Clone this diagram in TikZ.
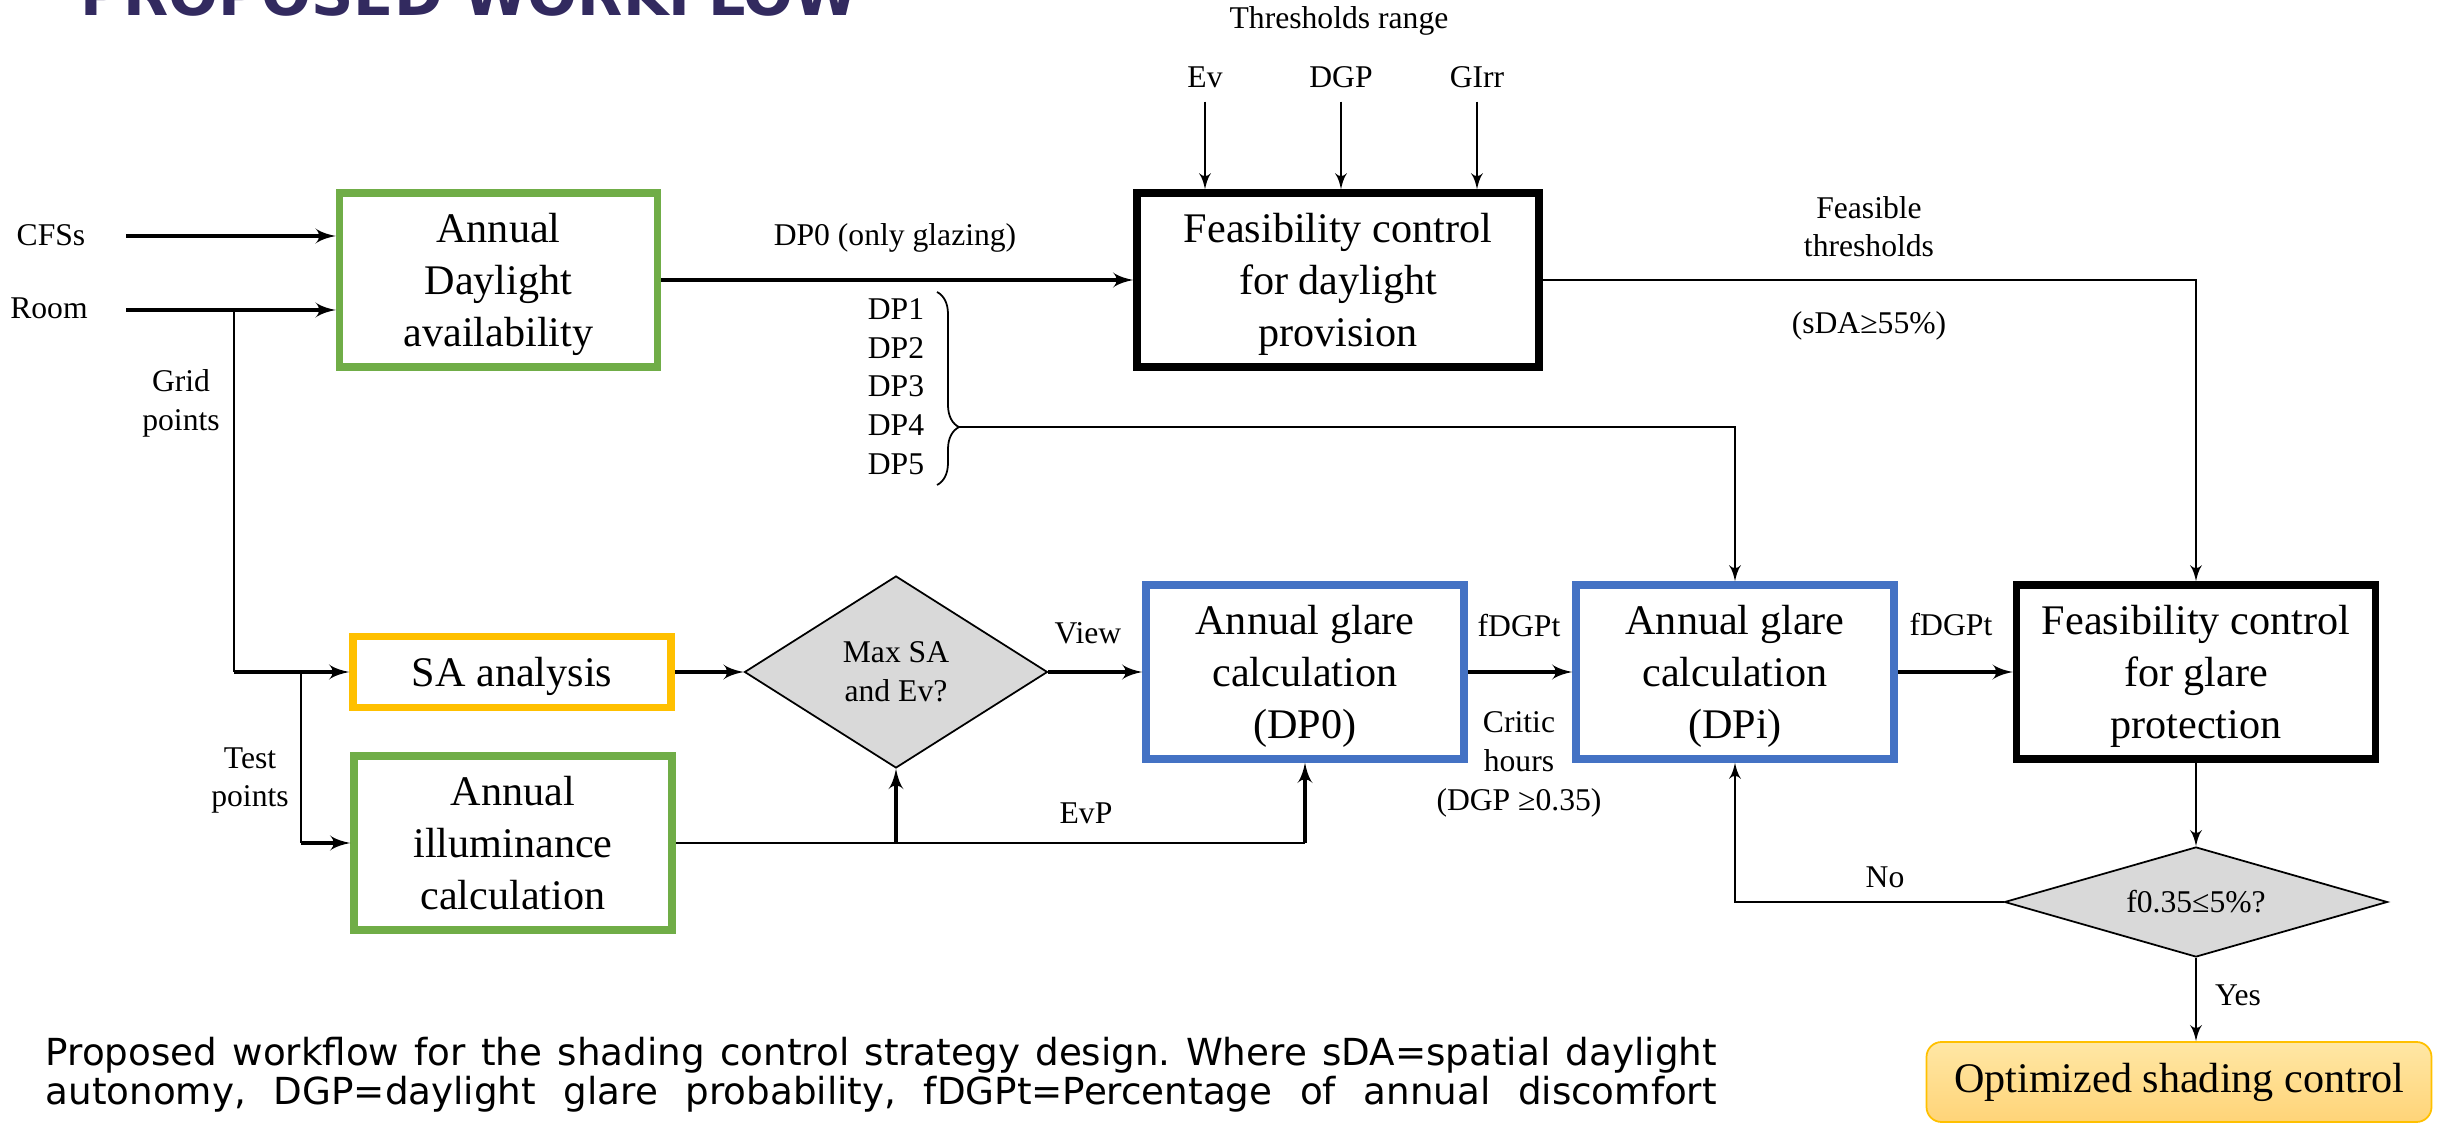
\documentclass[tikz,border=0pt]{standalone}
\usepackage{fontspec}
\setmainfont{Liberation Serif}
\newfontfamily\capfont{DejaVu Sans}
\newfontfamily\titlefont{DejaVu Sans}
\usetikzlibrary{arrows,shapes.geometric,decorations.pathreplacing}
\definecolor{boxgreen}{RGB}{112,173,71}
\definecolor{boxyellow}{RGB}{255,192,0}
\definecolor{boxblue}{RGB}{68,114,196}
\definecolor{diagray}{RGB}{217,217,217}
\definecolor{titlecol}{RGB}{50,42,95}
\definecolor{optimtop}{RGB}{255,231,165}
\definecolor{optimbot}{RGB}{255,212,120}
\begin{document}
\begin{tikzpicture}
   \tikzstyle{line} = [draw, -latex', line width=1pt]
   \tikzstyle{thinline} = [draw, -latex', line width=0.6pt]
   \tikzstyle{plain} = [draw, line width=0.5pt]
   \tikzstyle{lbl} = [align=center, inner sep=1pt, text depth=0pt, font=\fontsize{9}{11}\selectfont]
   \tikzstyle{box} = [draw, line width=0.075cm, align=center, inner sep=0pt, text depth=0pt, minimum width=3.18cm, minimum height=1.74cm, font=\fontsize{12}{14.7}\selectfont]
   \tikzstyle{greenbox} = [box, draw=boxgreen]
   \tikzstyle{bluebox} = [box, draw=boxblue]
   \tikzstyle{yellowbox} = [box, draw=boxyellow, minimum height=0.71cm]
   \tikzstyle{blackbox} = [box, draw=black]
   \tikzstyle{decision} = [diamond, draw, line width=0.5pt, fill=diagray, inner sep=0pt, align=center, font=\fontsize{9}{11}\selectfont]
   \tikzstyle{final} = [draw=boxyellow, line width=0.5pt, rounded corners=0.15cm, top color=optimtop, bottom color=optimbot, minimum width=5.05cm, minimum height=0.80cm, font=\fontsize{12}{14.7}\selectfont]

   \useasboundingbox (0,0) rectangle (24.64,11.25);

   % title, cut by the top edge
   \begin{scope}
   \clip (0,0) rectangle (24.64,11.25);
   \node [anchor=base west, inner sep=0pt, text=titlecol, font=\titlefont\bfseries\fontsize{16.7}{18}\selectfont] (title) at (0.80,11.09) {PROPOSED WORKFLOW};
   \end{scope}

   % inputs
   \node [lbl] (cfs) at (0.51,8.90) {CFSs};
   \node [lbl] (room) at (0.49,8.17) {Room};
   \coordinate (cfsin) at (1.26,8.89);
   \coordinate (roomin) at (1.26,8.15);
   \coordinate (gridtop) at (2.34,8.15);
   \coordinate (testtop) at (3.01,4.53);
   \node [lbl] (grid) at (1.81,7.25) {Grid\\points};
   \node [lbl] (test) at (2.50,3.48) {Test\\points};

   % boxes
   \node [greenbox] (dayavail) at (4.985,8.45) {Annual\\Daylight\\availability};
   \node [blackbox, minimum width=4.02cm] (feasday) at (13.38,8.45) {Feasibility control\\for daylight\\provision};
   \node [yellowbox] (sa) at (5.12,4.53) {SA analysis};
   \node [greenbox] (illum) at (5.13,2.82) {Annual\\illuminance\\calculation};
   \node [decision, minimum width=3.03cm, minimum height=1.92cm, aspect=1.58] (maxsa) at (8.96,4.53) {Max SA\\and Ev?};
   \node [bluebox] (dpzero) at (13.05,4.53) {Annual glare\\calculation\\(DP0)};
   \node [bluebox] (dpi) at (17.35,4.53) {Annual glare\\calculation\\(DPi)};
   \node [blackbox, minimum width=3.59cm] (feasglare) at (21.96,4.53) {Feasibility control\\for glare\\protection};
   \node [decision, minimum width=3.83cm, minimum height=1.10cm, aspect=3.5] (fcheck) at (21.96,2.23) {f0.35≤5\%?};
   \node [final] (optim) at (21.79,0.43) {Optimized shading control};

   % thresholds
   \node [lbl] (thr) at (13.39,11.07) {Thresholds range};
   \node [lbl] (ev) at (12.05,10.48) {Ev};
   \node [lbl] (dgp) at (13.41,10.48) {DGP};
   \node [lbl] (girr) at (14.77,10.48) {GIrr};

   % labels
   \node [lbl] (dpzerolbl) at (8.95,8.90) {DP0 (only glazing)};
   \node [lbl] (dplist) at (8.96,7.385) {DP1\\DP2\\DP3\\DP4\\DP5};
   \coordinate (dptip) at (9.59,6.98);
   \node [lbl] (feaslbl) at (18.69,8.985) {Feasible\\thresholds};
   \node [lbl] (sdalbl) at (18.69,8.02) {(sDA≥55\%)};
   \node [lbl] (viewlbl) at (10.88,4.92) {View};
   \node [lbl] (evplbl) at (10.86,3.12) {EvP};
   \node [lbl] (fdgpone) at (15.19,5.00) {fDGPt};
   \node [lbl] (critic) at (15.19,3.64) {Critic\\hours\\(DGP ≥0.35)};
   \node [lbl] (fdgptwo) at (19.51,5.01) {fDGPt};
   \node [lbl] (nolbl) at (18.85,2.48) {No};
   \node [lbl] (yeslbl) at (22.38,1.30) {Yes};

   % caption
   \node [anchor=base west, inner sep=0pt, font=\capfont\fontsize{10.6}{11}\selectfont\frenchspacing] (capone) at (0.45,0.60) {\makebox[16.71cm][s]{Proposed workflow for the shading control strategy design. Where sDA=spatial daylight}};
   \node [anchor=base west, inner sep=0pt, font=\capfont\fontsize{10.6}{11}\selectfont\frenchspacing] (captwo) at (0.45,0.21) {\makebox[16.71cm][s]{autonomy, DGP=daylight glare probability, fDGPt=Percentage of annual discomfort}};

   % connectors
   \path (cfsin) edge [line] (cfsin -| dayavail.west);
   \path (roomin) edge [line] (roomin -| dayavail.west);
   \path (gridtop) edge [plain] (gridtop |- sa.west);
   \path (gridtop |- sa.west) edge [line] (sa.west);
   \path (testtop) edge [plain] (testtop |- illum.west);
   \path (testtop |- illum.west) edge [line] (illum.west);

   \path (dayavail.east) edge [line] (feasday.west);
   \path (ev) edge [thinline, shorten <=1mm] (ev |- feasday.north);
   \path (dgp) edge [thinline, shorten <=1mm] (dgp |- feasday.north);
   \path (girr) edge [thinline, shorten <=1mm] (girr |- feasday.north);
   \draw [thinline] (feasday.east) -| (feasglare.north);

   \draw [plain, decorate, decoration={brace, amplitude=0.22cm, aspect=0.7}] (9.37,8.33) -- (9.37,6.40);
   \draw [thinline] (dptip) -| (dpi.north);

   \path (sa.east) edge [line] (maxsa.west);
   \path (maxsa.east) edge [line] (dpzero.west);
   \path (illum.east) edge [plain] (illum.east -| dpzero.south);
   \path (illum.east -| maxsa.south) edge [line] (maxsa.south);
   \path (illum.east -| dpzero.south) edge [line] (dpzero.south);

   \path (dpzero.east) edge [line] (dpi.west);
   \path (dpi.east) edge [line] (feasglare.west);
   \path (feasglare.south) edge [thinline] (fcheck.north);
   \draw [thinline] (fcheck.west) -| (dpi.south);
   \path (fcheck.south) edge [thinline] (fcheck.south |- optim.north);

 \end{tikzpicture}
\end{document}
